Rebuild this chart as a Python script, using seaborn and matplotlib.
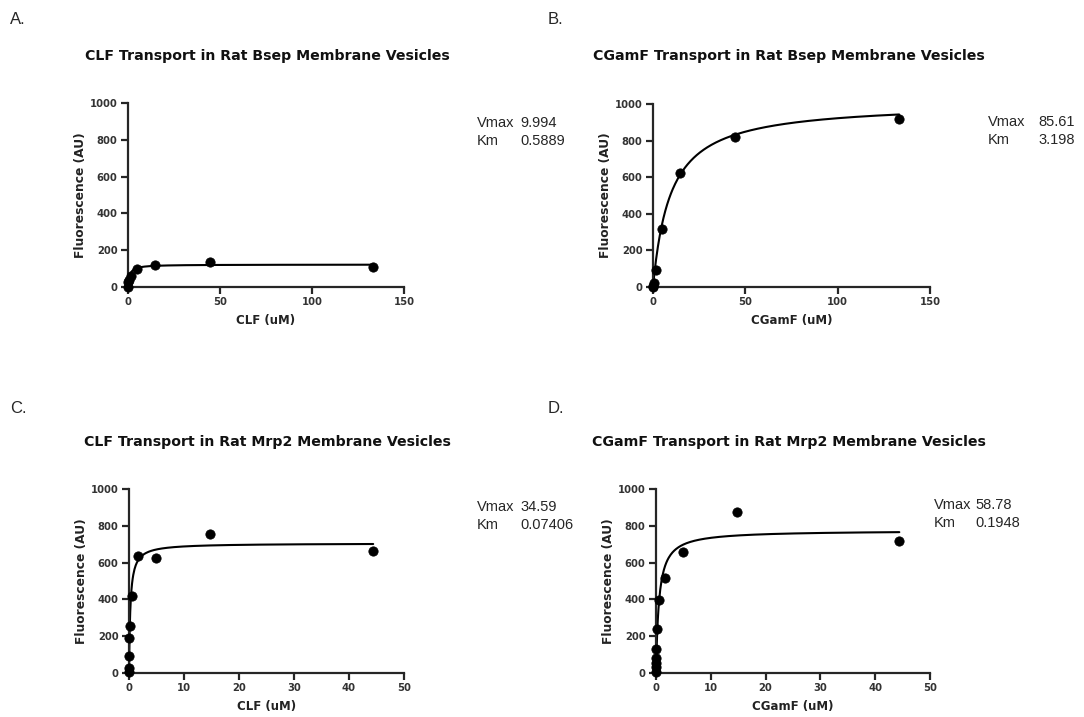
import numpy as np
import pandas as pd
import matplotlib
matplotlib.use("Agg")
import matplotlib.pyplot as plt
import seaborn as sns

# substrate concentrations (uM) and measured fluorescence (AU)
conc_bsep = [0, 0.18, 0.55, 1.65, 4.94, 14.8, 44.4, 133.3]
clf_bsep = [0, 25, 40, 60, 98, 118, 135, 108]
cgamf_bsep = [0, 5, 22, 94, 318, 625, 820, 917]

conc_mrp2 = [0, 0.007, 0.02, 0.06, 0.18, 0.55, 1.65, 4.94, 14.8, 44.4]
clf_mrp2 = [5, 27, 92, 190, 255, 418, 635, 623, 755, 663]
conc_mrp2_d = [0, 0.002, 0.007, 0.02, 0.06, 0.18, 0.55, 1.65, 4.94, 14.8, 44.4]
cgamf_mrp2 = [5, 33, 54, 82, 130, 239, 397, 515, 655, 873, 718]

# curve parameters (plot scale) and reported fit values
curve_vmax = [122, 1010, 705, 775]
curve_km = [0.9, 9.5, 0.25, 0.55]
rep_vmax = ["9.994", "85.61", "34.59", "58.78"]
rep_km = ["0.5889", "3.198", "0.07406", "0.1948"]

titles = ["CLF Transport in Rat Bsep Membrane Vesicles",
          "CGamF Transport in Rat Bsep Membrane Vesicles",
          "CLF Transport in Rat Mrp2 Membrane Vesicles",
          "CGamF Transport in Rat Mrp2 Membrane Vesicles"]
xlabels = ["CLF (uM)", "CGamF (uM)", "CLF (uM)", "CGamF (uM)"]
letters = ["A.", "B.", "C.", "D."]
xmax = [150, 150, 50, 50]
xticks = [[0, 50, 100, 150], [0, 50, 100, 150],
          [0, 10, 20, 30, 40, 50], [0, 10, 20, 30, 40, 50]]

datasets = [(conc_bsep, clf_bsep), (conc_bsep, cgamf_bsep),
            (conc_mrp2, clf_mrp2), (conc_mrp2_d, cgamf_mrp2)]

sns.set_style("ticks")
plt.rcParams['font.family'] = ['Liberation Sans', 'DejaVu Sans']
wide = "DejaVu Sans"

W, H = 1084, 717
fig = plt.figure(figsize=(W / 100, H / 100), dpi=100)

# axes boxes in pixels: left, right, top, bottom
boxes = [(128, 404, 103, 287), (653, 930, 104, 287),
         (129, 404, 489, 673), (656, 930, 489, 673)]
letter_pos = [(10, 20), (548, 20), (10, 408), (548, 408)]
title_pos = [(267, 56), (789, 56), (267, 442), (789, 442)]
vtext_pos = [(477, 520, 123), (988, 1038, 122), (477, 520, 507), (934, 975, 505)]

for i in range(4):
    l, r, t, b = boxes[i]
    ax = fig.add_axes([l / W, 1 - b / H, (r - l) / W, (b - t) / H])
    x, y = datasets[i]
    df = pd.DataFrame({"conc": x, "fluor": y})

    xs = np.linspace(0, max(x), 400)
    fit = pd.DataFrame({"conc": xs,
                        "fluor": curve_vmax[i] * xs / (curve_km[i] + xs)})
    sns.lineplot(data=fit, x="conc", y="fluor", color="black", lw=1.5,
                 ax=ax, clip_on=False)
    sns.scatterplot(data=df, x="conc", y="fluor", color="black", s=45,
                    edgecolor="black", ax=ax, clip_on=False, zorder=5)

    ax.set_xlim(0, xmax[i])
    ax.set_ylim(0, 1000)
    ax.set_xticks(xticks[i])
    ax.set_yticks([0, 200, 400, 600, 800, 1000])
    sns.despine(ax=ax)
    for s in ["left", "bottom"]:
        ax.spines[s].set_linewidth(1.6)
    ax.tick_params(width=1.6, length=5, labelsize=7.2, pad=2.5)
    for lab in ax.get_xticklabels() + ax.get_yticklabels():
        lab.set_fontweight("bold")
        lab.set_family(wide)
        lab.set_color("#333333")
    ax.set_xlabel(xlabels[i], fontsize=8.5, fontweight="bold", family=wide,
                  color="#222222", labelpad=5)
    ax.set_ylabel("Fluorescence (AU)", fontsize=8.8, fontweight="bold",
                  family=wide, color="#222222", labelpad=2)

    lx, ly = letter_pos[i]
    fig.text(lx / W, 1 - ly / H, letters[i], fontsize=12, va="center", ha="left")
    tx, ty = title_pos[i]
    fig.text(tx / W, 1 - ty / H, titles[i], fontsize=10.2, fontweight="bold",
             family=wide, va="center", ha="center", color="#111111")
    vx1, vx2, vy = vtext_pos[i]
    fig.text(vx1 / W, 1 - vy / H, "Vmax", fontsize=10.5, va="center")
    fig.text(vx2 / W, 1 - vy / H, rep_vmax[i], fontsize=10.5, va="center")
    fig.text(vx1 / W, 1 - (vy + 18) / H, "Km", fontsize=10.5, va="center")
    fig.text(vx2 / W, 1 - (vy + 18) / H, rep_km[i], fontsize=10.5, va="center")

fig.savefig("out.png", dpi=100)
